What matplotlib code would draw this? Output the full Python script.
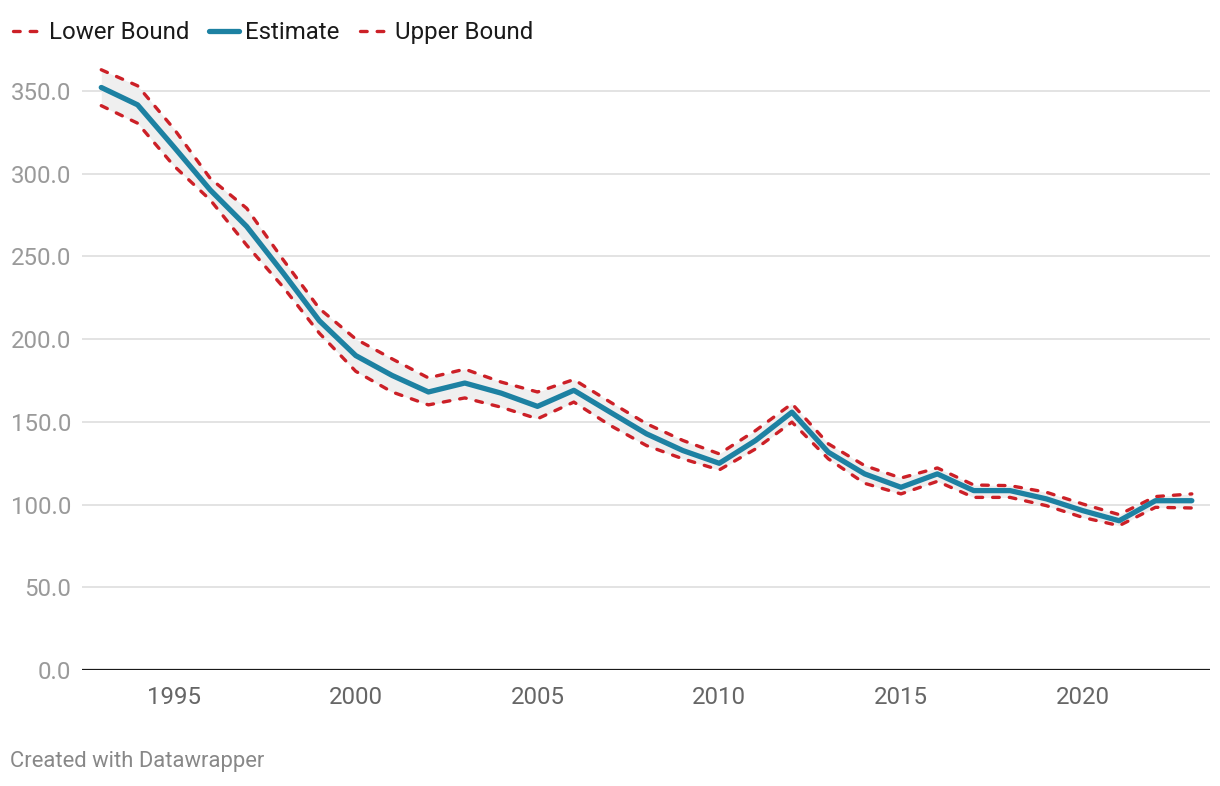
import matplotlib
matplotlib.use("Agg")
import matplotlib.pyplot as plt

years = list(range(1993, 2024))
estimate = [352, 341.5, 316, 290, 268, 240, 211, 190, 178, 168, 173.4, 167.3, 159.3, 169,
            155.8, 142.7, 132.6, 124.9, 138.7, 155.8, 131.6, 118.5, 110.4, 118.5, 108.4,
            108.4, 103.4, 96.3, 90.2, 102.3, 102.3]
upper = [362.7, 353, 327, 297, 279, 248, 218.4, 200, 188, 176.5, 181.8, 174, 168, 175.5,
         161.9, 148.8, 138.7, 130.6, 144.7, 160.9, 136.7, 123.5, 116, 122.1, 111.8,
         111.4, 107.4, 100.3, 93.9, 104.8, 106.4]
lower = [341, 330.4, 304.6, 284, 256.7, 231.5, 203.5, 180.5, 168, 160.2, 164.4, 158.8, 151.8,
         161.9, 147.8, 135.6, 127.6, 120.9, 133.6, 149.8, 127.6, 112.8, 106.4, 114, 104.3,
         104.3, 99.3, 92.2, 87.2, 98.3, 97.9]
yticks = [0, 50, 100, 150, 200, 250, 300, 350]
xticks = [1995, 2000, 2005, 2010, 2015, 2020]

plt.rcParams["font.family"] = ["Roboto", "DejaVu Sans"]
red = "#cc2027"; teal = "#1d81a2"
dash = (0, (2.0, 3.0))

fig = plt.figure(figsize=(12.2, 7.86), dpi=100)
ax = fig.add_axes([82/1220, 1-670/786, (1210-82)/1220, (670-60)/786])
ax.set_xlim(1992.47, 2023.5); ax.set_ylim(0, 368.6)

ax.fill_between(years, lower, upper, color="#efefef", lw=0, zorder=1)
l1, = ax.plot(years, lower, color=red, lw=2.4, ls=dash, dash_capstyle="round", label="Lower Bound", zorder=3)
l2, = ax.plot(years, estimate, color=teal, lw=3.8, solid_capstyle="round", label="Estimate", zorder=4)
l3, = ax.plot(years, upper, color=red, lw=2.4, ls=dash, dash_capstyle="round", label="Upper Bound", zorder=3)

for t in yticks[1:]:
    ax.axhline(t, color="#e3e3e3", lw=1.4, zorder=0)
ax.axhline(0, color="#1a1a1a", lw=1.6, zorder=5)

ax.set_yticks(yticks); ax.set_yticklabels([f"{t:.1f}" for t in yticks])
ax.set_xticks(xticks)
ax.tick_params(axis="y", length=0, pad=7.7, labelsize=17.3, labelcolor="#9a9a9a")
ax.tick_params(axis="x", length=0, pad=11.5, labelsize=17.3, labelcolor="#666666")
for s in ax.spines.values():
    s.set_visible(False)

fig.legend(handles=[l1, l2, l3], loc="upper left", bbox_to_anchor=(-5/1220, 1-3/786), ncol=3,
           frameon=False, fontsize=17.3, handlelength=1.25, handletextpad=0.23,
           columnspacing=0.85, borderaxespad=0.35, labelcolor="#1a1a1a")
fig.text(10/1220, 1-762/786, "Created with Datawrapper", fontsize=15.8, color="#888888", va="center")

fig.savefig("out.png", dpi=100)
